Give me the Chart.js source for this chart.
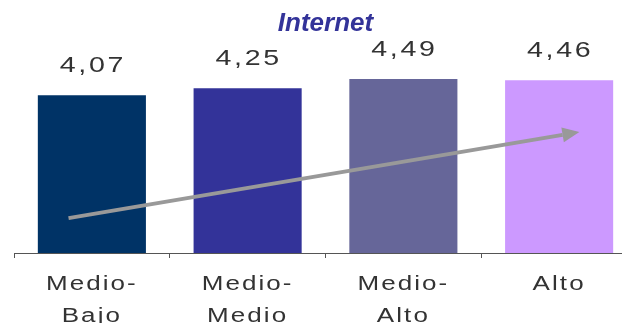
<!DOCTYPE html>
<html>
<head>
<meta charset="utf-8">
<script src="https://cdn.jsdelivr.net/npm/chart.js@4"></script>
<style>
  html, body { margin: 0; padding: 0; background: #fff; overflow: hidden; }
  #wrap { width: 622px; height: 323px; overflow: hidden; }
</style>
</head>
<body>
<div id="wrap"><canvas id="chart" width="640" height="323"></canvas></div>
<script>
// Chart data
const categories = [['Medio-', 'Bajo'], ['Medio-', 'Medio'], ['Medio-', 'Alto'], 'Alto'];
const values = [4.07, 4.25, 4.49, 4.46];
const barColors = ['#003366', '#333399', '#666699', '#CC99FF'];

// Trend arrow, in data units (category index, value)
const arrowStart = [-0.15, 0.9];
const arrowEnd = [3.13, 3.12];

const FONT = "'Liberation Sans', Arial, sans-serif";
const STRETCH = 1.3; // the source text is drawn horizontally stretched

// fillText stretched horizontally about its anchor point
function wideText(ctx, text, x, y) {
    ctx.save();
    ctx.translate(x, y);
    ctx.scale(STRETCH, 1);
    CanvasRenderingContext2D.prototype.fillText.call(ctx, text, 0, 0);
    ctx.restore();
}

// Value labels above the bars
const valueLabels = {
    id: 'valueLabels',
    afterDatasetsDraw(chart) {
        const ctx = chart.ctx;
        const meta = chart.getDatasetMeta(0);
        ctx.save();
        ctx.font = '22px ' + FONT;
        ctx.fillStyle = '#333333';
        ctx.textAlign = 'center';
        ctx.textBaseline = 'middle';
        ctx.letterSpacing = '2px';
        meta.data.forEach((bar, i) => {
            const text = values[i].toFixed(2).replace('.', ',');
            wideText(ctx, text, bar.x + 1, bar.y - 29);
        });
        ctx.restore();
    }
};

// Gray trend arrow
const trendArrow = {
    id: 'trendArrow',
    afterDatasetsDraw(chart) {
        const ctx = chart.ctx;
        const x = chart.scales.x, y = chart.scales.y;
        const x1 = x.getPixelForValue(arrowStart[0]), y1 = y.getPixelForValue(arrowStart[1]);
        const x2 = x.getPixelForValue(arrowEnd[0]), y2 = y.getPixelForValue(arrowEnd[1]);
        const ang = Math.atan2(y2 - y1, x2 - x1);
        const head = 17, half = 7.5;
        ctx.save();
        ctx.strokeStyle = '#999999';
        ctx.fillStyle = '#999999';
        ctx.lineWidth = 4;
        ctx.beginPath();
        ctx.moveTo(x1, y1);
        ctx.lineTo(x2 - head * Math.cos(ang), y2 - head * Math.sin(ang));
        ctx.stroke();
        ctx.beginPath();
        ctx.moveTo(x2, y2);
        ctx.lineTo(x2 - head * Math.cos(ang) + half * Math.sin(ang), y2 - head * Math.sin(ang) - half * Math.cos(ang));
        ctx.lineTo(x2 - head * Math.cos(ang) - half * Math.sin(ang), y2 - head * Math.sin(ang) + half * Math.cos(ang));
        ctx.closePath();
        ctx.fill();
        ctx.restore();
    }
};

// Stretched, slightly spaced category labels
const wideTicks = {
    id: 'wideTicks',
    afterLayout(chart) {
        const sc = chart.scales.x;
        if (sc._wide) return;
        const orig = sc.drawLabels;
        sc.drawLabels = function (area) {
            const ctx = this.ctx;
            ctx.save();
            ctx.letterSpacing = '1.6px';
            ctx.fillText = function (text, x, y) { wideText(ctx, text, x, y); };
            orig.call(this, area);
            delete ctx.fillText;
            ctx.restore();
        };
        sc._wide = true;
    }
};

new Chart(document.getElementById('chart'), {
    type: 'bar',
    data: {
        labels: categories,
        datasets: [{
            data: values,
            backgroundColor: barColors,
            borderWidth: 0,
            categoryPercentage: 1,
            barPercentage: 0.694
        }]
    },
    options: {
        responsive: false,
        animation: false,
        layout: { padding: { left: 14, right: 3, top: 0, bottom: 0 } },
        plugins: {
            legend: { display: false },
            tooltip: { enabled: false },
            title: {
                display: true,
                text: 'Internet',
                color: '#333399',
                font: { family: FONT, size: 26, style: 'italic', weight: 'bold', lineHeight: 1.2 },
                padding: { top: 8, bottom: 20 }
            }
        },
        scales: {
            x: {
                grid: { display: true, drawOnChartArea: false, color: '#555555', tickLength: 5, offset: true },
                border: { display: true, color: '#555555', width: 1 },
                ticks: {
                    color: '#333333',
                    padding: 10,
                    font: { family: FONT, size: 20, lineHeight: 1.6 },
                    maxRotation: 0,
                    autoSkip: false
                },
                afterFit(scale) { scale.height = 70; }
            },
            y: {
                display: false,
                min: 0,
                max: 5
            }
        }
    },
    plugins: [valueLabels, trendArrow, wideTicks]
});
</script>
</body>
</html>
